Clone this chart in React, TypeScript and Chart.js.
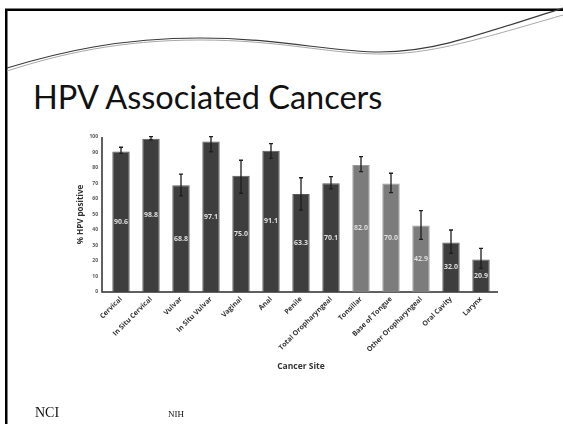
import { useEffect, useRef } from "react";
import { Chart, registerables } from "chart.js";

Chart.register(...registerables);

const categories = [
  "Cervical",
  "In Situ Cervical",
  "Vulvar",
  "In Situ Vulvar",
  "Vaginal",
  "Anal",
  "Penile",
  "Total Oropharyngeal",
  "Tonsillar",
  "Base of Tongue",
  "Other Oropharyngeal",
  "Oral Cavity",
  "Larynx",
];
const hpvPositive = [90.6, 98.8, 68.8, 97.1, 75.0, 91.1, 63.3, 70.1, 82.0, 70.0, 42.9, 32.0, 20.9];
const errorLow = [89.5, 98.2, 62.0, 90.5, 63.7, 86.2, 52.9, 66.5, 77.6, 64.1, 34.0, 25.0, 15.3];
const errorHigh = [93.4, 100.3, 76.1, 100.3, 85.0, 95.7, 73.7, 74.4, 87.3, 76.6, 52.5, 40.0, 28.2];
const isSubsite = [false, false, false, false, false, false, false, false, true, true, true, false, false];
const yTicks = [0, 10, 20, 30, 40, 50, 60, 70, 80, 90, 100];
const yTitle = "% HPV positive";
const xTitle = "Cancer Site";
const slideTitle = "HPV Associated Cancers";
const footerLeft = "NCI";
const footerRight = "NIH";

const DARK = "#3e3e3e";
const LIGHT = "#7c7c7c";
const FONT = "'Open Sans', 'DejaVu Sans', sans-serif";

const overlayPlugin = {
  id: "overlay",
  beforeDatasetsDraw(chart: any) {
    const { ctx, chartArea } = chart;
    ctx.save();
    ctx.strokeStyle = "#2e2e2e";
    ctx.lineWidth = 1.5;
    ctx.beginPath();
    ctx.moveTo(chartArea.left - 4, chartArea.top);
    ctx.lineTo(chartArea.left - 4, chartArea.bottom);
    ctx.lineTo(chartArea.right + 2, chartArea.bottom);
    ctx.stroke();
    ctx.restore();
  },
  afterDatasetsDraw(chart: any) {
    const { ctx } = chart;
    const yScale = chart.scales.y;
    const meta = chart.getDatasetMeta(0);
    ctx.save();
    meta.data.forEach((el: any, i: number) => {
      const x = el.x;
      const yl = yScale.getPixelForValue(errorLow[i]);
      const yh = yScale.getPixelForValue(errorHigh[i]);
      ctx.strokeStyle = "#1e1e1e";
      ctx.lineWidth = 1.3;
      ctx.beginPath();
      ctx.moveTo(x, yl);
      ctx.lineTo(x, yh);
      ctx.moveTo(x - 2, yl);
      ctx.lineTo(x + 2, yl);
      ctx.moveTo(x - 2, yh);
      ctx.lineTo(x + 2, yh);
      ctx.stroke();
      ctx.fillStyle = "#dedede";
      ctx.font = `bold 7px ${FONT}`;
      ctx.textAlign = "center";
      ctx.textBaseline = "middle";
      ctx.fillText(hpvPositive[i].toFixed(1), x, (el.y + el.base) / 2);
    });
    ctx.restore();
  },
};

function ChartCanvas() {
  const ref = useRef<HTMLCanvasElement | null>(null);
  useEffect(() => {
    if (!ref.current) return;
    const chart = new Chart(ref.current, {
      type: "bar",
      data: {
        labels: categories,
        datasets: [
          {
            data: hpvPositive,
            backgroundColor: isSubsite.map((s) => (s ? LIGHT : DARK)),
            borderColor: isSubsite.map((s) => (s ? "#9a9a9a" : "#5a5a5a")),
            borderWidth: 1,
            categoryPercentage: 1,
            barPercentage: 0.58,
          },
        ],
      },
      options: {
        animation: false,
        responsive: false,
        events: [],
        layout: { padding: { left: 60, right: 67, top: 137, bottom: 52 } },
        plugins: { legend: { display: false }, title: { display: false }, tooltip: { enabled: false } },
        scales: {
          x: {
            grid: { display: false, drawTicks: false },
            border: { display: false },
            ticks: {
              autoSkip: false,
              maxRotation: 45,
              minRotation: 45,
              padding: 3,
              color: "#333",
              font: { family: FONT, size: 7, weight: "bold" },
            },
            title: {
              display: true,
              text: xTitle,
              color: "#333",
              padding: { top: 3, bottom: 0 },
              font: { family: FONT, size: 8.5, weight: "bold" },
            },
            afterFit: (s: any) => {
              s.height = 80;
            },
          },
          y: {
            min: 0,
            max: 100,
            grid: { display: false, drawTicks: false },
            border: { display: false },
            afterBuildTicks: (s: any) => {
              s.ticks = yTicks.map((v) => ({ value: v }));
            },
            ticks: {
              padding: 8,
              color: "#555",
              font: { family: FONT, size: 5, weight: "bold" },
              callback: (v: any) => String(v),
            },
            title: {
              display: true,
              text: yTitle,
              color: "#333",
              padding: { top: 16, bottom: 0 },
              font: { family: FONT, size: 8, weight: "bold" },
            },
            afterFit: (s: any) => {
              s.width = 46;
            },
          },
        },
      },
      plugins: [overlayPlugin],
    });
    return () => chart.destroy();
  }, []);
  return (
    <canvas
      ref={ref}
      width={563}
      height={424}
      style={{ position: "absolute", left: 0, top: 0, width: 563, height: 424 }}
    />
  );
}

export default function App() {
  return (
    <div
      style={{
        position: "absolute",
        left: 0,
        top: 0,
        width: 563,
        height: 424,
        overflow: "hidden",
        background: "#fff",
      }}
    >
      <svg width={563} height={424} style={{ position: "absolute", left: 0, top: 0 }}>
        <rect x={5} y={9} width={2.5} height={415} fill="#000" />
        <rect x={5} y={8.5} width={558} height={2.5} fill="#000" />
        <path
          d="M7,71 C60,54 120,40 200,40 C280,40 330,54 380,54 C430,54 470,42 563,15"
          fill="none"
          stroke="#a8a8a8"
          strokeWidth={1}
        />
        <path
          d="M7,68 C60,52 120,38 200,38 C280,38 330,52 380,52 C430,52 470,38 563,8"
          fill="none"
          stroke="#3a3a3a"
          strokeWidth={1.2}
        />
      </svg>
      <div
        style={{
          position: "absolute",
          left: 33,
          top: 77,
          fontFamily: "Lato, 'Open Sans', sans-serif",
          fontSize: 32.5,
          lineHeight: "normal",
          color: "#111",
          whiteSpace: "nowrap",
        }}
      >
        {slideTitle}
      </div>
      <ChartCanvas />
      <div
        style={{
          position: "absolute",
          left: 35,
          top: 405,
          fontFamily: "'Liberation Serif', serif",
          fontSize: 14,
          lineHeight: "normal",
          color: "#111",
        }}
      >
        {footerLeft}
      </div>
      <div
        style={{
          position: "absolute",
          left: 168,
          top: 409,
          fontFamily: "'Liberation Serif', serif",
          fontSize: 9,
          lineHeight: "normal",
          color: "#111",
        }}
      >
        {footerRight}
      </div>
    </div>
  );
}
